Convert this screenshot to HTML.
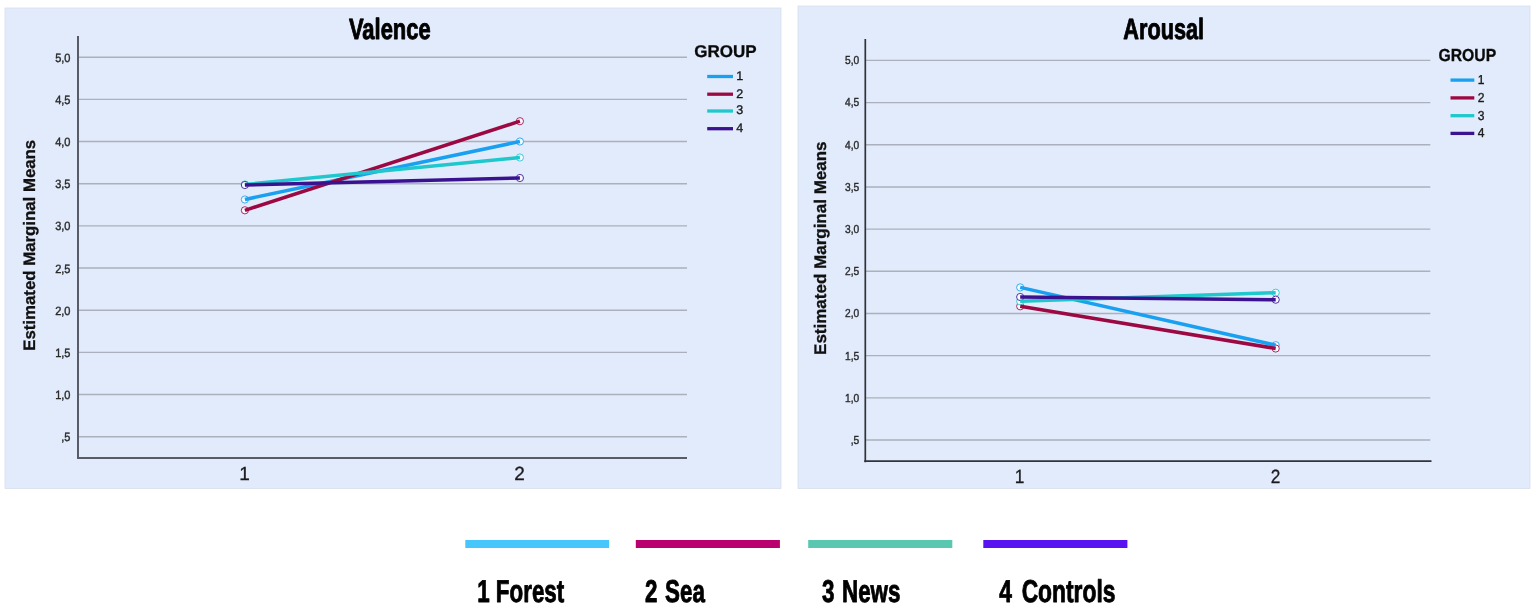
<!DOCTYPE html>
<html><head><meta charset="utf-8"><title>Valence and Arousal</title>
<style>html,body{margin:0;padding:0;background:#fff;}body{width:1535px;height:609px;overflow:hidden;}svg{display:block;text-rendering:geometricPrecision;}</style></head><body>
<svg width="1535" height="609" viewBox="0 0 1535 609" font-family="'Liberation Sans', Arial, sans-serif">
<rect width="1535" height="609" fill="#ffffff"/>
<rect x="5" y="8" width="776" height="480.5" fill="#e2ebfb" stroke="#d8dfeb" stroke-width="0.8"/>
<line x1="78" y1="57.2" x2="687" y2="57.2" stroke="#aab1bd" stroke-width="1.4"/>
<text x="70.5" y="61.8" font-size="12" text-anchor="end" fill="#2b2b2b" stroke="#2b2b2b" stroke-width="0.4" transform="translate(70.5,0) scale(0.92,1) translate(-70.5,0)">5,0</text>
<line x1="78" y1="99.37" x2="687" y2="99.37" stroke="#aab1bd" stroke-width="1.4"/>
<text x="70.5" y="103.97" font-size="12" text-anchor="end" fill="#2b2b2b" stroke="#2b2b2b" stroke-width="0.4" transform="translate(70.5,0) scale(0.92,1) translate(-70.5,0)">4,5</text>
<line x1="78" y1="141.54" x2="687" y2="141.54" stroke="#aab1bd" stroke-width="1.4"/>
<text x="70.5" y="146.14" font-size="12" text-anchor="end" fill="#2b2b2b" stroke="#2b2b2b" stroke-width="0.4" transform="translate(70.5,0) scale(0.92,1) translate(-70.5,0)">4,0</text>
<line x1="78" y1="183.71" x2="687" y2="183.71" stroke="#aab1bd" stroke-width="1.4"/>
<text x="70.5" y="188.31" font-size="12" text-anchor="end" fill="#2b2b2b" stroke="#2b2b2b" stroke-width="0.4" transform="translate(70.5,0) scale(0.92,1) translate(-70.5,0)">3,5</text>
<line x1="78" y1="225.88" x2="687" y2="225.88" stroke="#aab1bd" stroke-width="1.4"/>
<text x="70.5" y="230.48" font-size="12" text-anchor="end" fill="#2b2b2b" stroke="#2b2b2b" stroke-width="0.4" transform="translate(70.5,0) scale(0.92,1) translate(-70.5,0)">3,0</text>
<line x1="78" y1="268.05" x2="687" y2="268.05" stroke="#aab1bd" stroke-width="1.4"/>
<text x="70.5" y="272.65" font-size="12" text-anchor="end" fill="#2b2b2b" stroke="#2b2b2b" stroke-width="0.4" transform="translate(70.5,0) scale(0.92,1) translate(-70.5,0)">2,5</text>
<line x1="78" y1="310.22" x2="687" y2="310.22" stroke="#aab1bd" stroke-width="1.4"/>
<text x="70.5" y="314.82" font-size="12" text-anchor="end" fill="#2b2b2b" stroke="#2b2b2b" stroke-width="0.4" transform="translate(70.5,0) scale(0.92,1) translate(-70.5,0)">2,0</text>
<line x1="78" y1="352.39" x2="687" y2="352.39" stroke="#aab1bd" stroke-width="1.4"/>
<text x="70.5" y="356.99" font-size="12" text-anchor="end" fill="#2b2b2b" stroke="#2b2b2b" stroke-width="0.4" transform="translate(70.5,0) scale(0.92,1) translate(-70.5,0)">1,5</text>
<line x1="78" y1="394.56" x2="687" y2="394.56" stroke="#aab1bd" stroke-width="1.4"/>
<text x="70.5" y="399.16" font-size="12" text-anchor="end" fill="#2b2b2b" stroke="#2b2b2b" stroke-width="0.4" transform="translate(70.5,0) scale(0.92,1) translate(-70.5,0)">1,0</text>
<line x1="78" y1="436.73" x2="687" y2="436.73" stroke="#aab1bd" stroke-width="1.4"/>
<text x="70.5" y="441.33" font-size="12" text-anchor="end" fill="#2b2b2b" stroke="#2b2b2b" stroke-width="0.4" transform="translate(70.5,0) scale(0.92,1) translate(-70.5,0)">,5</text>
<line x1="78" y1="36" x2="78" y2="459" stroke="#575c66" stroke-width="2"/>
<line x1="77" y1="458" x2="687" y2="458" stroke="#575c66" stroke-width="2.2"/>
<text transform="translate(35.2,245.3) rotate(-90)" font-size="16.6" font-weight="bold" text-anchor="middle" textLength="211" lengthAdjust="spacingAndGlyphs" fill="#111" stroke="#111" stroke-width="0.3">Estimated Marginal Means</text>
<text x="0" y="0" transform="translate(244.5,480.0) scale(1.0,1)" font-size="19" text-anchor="middle" fill="#1a1a1a" stroke="#1a1a1a" stroke-width="0.3">1</text>
<text x="0" y="0" transform="translate(519.5,480.0) scale(1.0,1)" font-size="19" text-anchor="middle" fill="#1a1a1a" stroke="#1a1a1a" stroke-width="0.3">2</text>
<text x="0" y="0" transform="translate(389.8,39.2) scale(0.75,1)" font-size="29.3" font-weight="bold" text-anchor="middle" fill="#000" stroke="#000" stroke-width="0.9" stroke-linejoin="round">Valence</text>
<text x="0" y="0" transform="translate(694.3,56.7) scale(1.0,1)" font-size="17" font-weight="bold" fill="#0a0a0a" stroke="#0a0a0a" stroke-width="0.3">GROUP</text>
<line x1="707.2" y1="76.5" x2="733" y2="76.5" stroke="#19a0f0" stroke-width="3.3"/>
<text x="0" y="0" transform="translate(736.3,79.9) scale(1.0,1)" font-size="12.5" fill="#1a1a1a" stroke="#1a1a1a" stroke-width="0.35">1</text>
<line x1="707.2" y1="94.2" x2="733" y2="94.2" stroke="#9c0942" stroke-width="3.3"/>
<text x="0" y="0" transform="translate(736.3,97.6) scale(1.0,1)" font-size="12.5" fill="#1a1a1a" stroke="#1a1a1a" stroke-width="0.35">2</text>
<line x1="707.2" y1="111.0" x2="733" y2="111.0" stroke="#1ec8cc" stroke-width="3.3"/>
<text x="0" y="0" transform="translate(736.3,114.4) scale(1.0,1)" font-size="12.5" fill="#1a1a1a" stroke="#1a1a1a" stroke-width="0.35">3</text>
<line x1="707.2" y1="128.7" x2="733" y2="128.7" stroke="#3a1290" stroke-width="3.3"/>
<text x="0" y="0" transform="translate(736.3,132.1) scale(1.0,1)" font-size="12.5" fill="#1a1a1a" stroke="#1a1a1a" stroke-width="0.35">4</text>
<circle cx="244.9" cy="199.5" r="3.6" fill="#f7faff" stroke="#19a0f0" stroke-width="1.0" stroke-opacity="0.85"/>
<circle cx="519.9" cy="141.5" r="3.6" fill="#f7faff" stroke="#19a0f0" stroke-width="1.0" stroke-opacity="0.85"/>
<circle cx="244.9" cy="210.3" r="3.6" fill="#f7faff" stroke="#9c0942" stroke-width="1.0" stroke-opacity="0.85"/>
<circle cx="519.9" cy="121.2" r="3.6" fill="#f7faff" stroke="#9c0942" stroke-width="1.0" stroke-opacity="0.85"/>
<circle cx="244.9" cy="184.5" r="3.6" fill="#f7faff" stroke="#1ec8cc" stroke-width="1.0" stroke-opacity="0.85"/>
<circle cx="519.9" cy="157.5" r="3.6" fill="#f7faff" stroke="#1ec8cc" stroke-width="1.0" stroke-opacity="0.85"/>
<circle cx="244.9" cy="185" r="3.6" fill="#f7faff" stroke="#3a1290" stroke-width="1.0" stroke-opacity="0.85"/>
<circle cx="519.9" cy="178" r="3.6" fill="#f7faff" stroke="#3a1290" stroke-width="1.0" stroke-opacity="0.85"/>
<line x1="244.9" y1="199.5" x2="519.9" y2="141.5" stroke="#19a0f0" stroke-width="3.5"/>
<line x1="244.9" y1="210.3" x2="519.9" y2="121.2" stroke="#9c0942" stroke-width="3.5"/>
<line x1="244.9" y1="184.5" x2="519.9" y2="157.5" stroke="#1ec8cc" stroke-width="3.5"/>
<line x1="244.9" y1="185" x2="519.9" y2="178" stroke="#3a1290" stroke-width="3.5"/>
<rect x="798" y="6" width="732" height="482.5" fill="#e2ebfb" stroke="#d8dfeb" stroke-width="0.8"/>
<line x1="865.3" y1="60.4" x2="1430.3" y2="60.4" stroke="#aab1bd" stroke-width="1.4"/>
<text x="859.3" y="64.3" font-size="11.6" text-anchor="end" fill="#2b2b2b" stroke="#2b2b2b" stroke-width="0.4" transform="translate(859.3,0) scale(0.88,1) translate(-859.3,0)">5,0</text>
<line x1="865.3" y1="102.58" x2="1430.3" y2="102.58" stroke="#aab1bd" stroke-width="1.4"/>
<text x="859.3" y="106.48" font-size="11.6" text-anchor="end" fill="#2b2b2b" stroke="#2b2b2b" stroke-width="0.4" transform="translate(859.3,0) scale(0.88,1) translate(-859.3,0)">4,5</text>
<line x1="865.3" y1="144.76" x2="1430.3" y2="144.76" stroke="#aab1bd" stroke-width="1.4"/>
<text x="859.3" y="148.66" font-size="11.6" text-anchor="end" fill="#2b2b2b" stroke="#2b2b2b" stroke-width="0.4" transform="translate(859.3,0) scale(0.88,1) translate(-859.3,0)">4,0</text>
<line x1="865.3" y1="186.94" x2="1430.3" y2="186.94" stroke="#aab1bd" stroke-width="1.4"/>
<text x="859.3" y="190.84" font-size="11.6" text-anchor="end" fill="#2b2b2b" stroke="#2b2b2b" stroke-width="0.4" transform="translate(859.3,0) scale(0.88,1) translate(-859.3,0)">3,5</text>
<line x1="865.3" y1="229.12" x2="1430.3" y2="229.12" stroke="#aab1bd" stroke-width="1.4"/>
<text x="859.3" y="233.02" font-size="11.6" text-anchor="end" fill="#2b2b2b" stroke="#2b2b2b" stroke-width="0.4" transform="translate(859.3,0) scale(0.88,1) translate(-859.3,0)">3,0</text>
<line x1="865.3" y1="271.3" x2="1430.3" y2="271.3" stroke="#aab1bd" stroke-width="1.4"/>
<text x="859.3" y="275.2" font-size="11.6" text-anchor="end" fill="#2b2b2b" stroke="#2b2b2b" stroke-width="0.4" transform="translate(859.3,0) scale(0.88,1) translate(-859.3,0)">2,5</text>
<line x1="865.3" y1="313.48" x2="1430.3" y2="313.48" stroke="#aab1bd" stroke-width="1.4"/>
<text x="859.3" y="317.38" font-size="11.6" text-anchor="end" fill="#2b2b2b" stroke="#2b2b2b" stroke-width="0.4" transform="translate(859.3,0) scale(0.88,1) translate(-859.3,0)">2,0</text>
<line x1="865.3" y1="355.66" x2="1430.3" y2="355.66" stroke="#aab1bd" stroke-width="1.4"/>
<text x="859.3" y="359.56" font-size="11.6" text-anchor="end" fill="#2b2b2b" stroke="#2b2b2b" stroke-width="0.4" transform="translate(859.3,0) scale(0.88,1) translate(-859.3,0)">1,5</text>
<line x1="865.3" y1="397.84" x2="1430.3" y2="397.84" stroke="#aab1bd" stroke-width="1.4"/>
<text x="859.3" y="401.74" font-size="11.6" text-anchor="end" fill="#2b2b2b" stroke="#2b2b2b" stroke-width="0.4" transform="translate(859.3,0) scale(0.88,1) translate(-859.3,0)">1,0</text>
<line x1="865.3" y1="440.02" x2="1430.3" y2="440.02" stroke="#aab1bd" stroke-width="1.4"/>
<text x="859.3" y="443.92" font-size="11.6" text-anchor="end" fill="#2b2b2b" stroke="#2b2b2b" stroke-width="0.4" transform="translate(859.3,0) scale(0.88,1) translate(-859.3,0)">,5</text>
<line x1="865.3" y1="39" x2="865.3" y2="462.2" stroke="#303339" stroke-width="1.7"/>
<line x1="864.3" y1="461.2" x2="1431.5" y2="461.2" stroke="#303339" stroke-width="1.7"/>
<text transform="translate(826,248.2) rotate(-90)" font-size="16.8" font-weight="bold" text-anchor="middle" textLength="213.5" lengthAdjust="spacingAndGlyphs" fill="#111" stroke="#111" stroke-width="0.3">Estimated Marginal Means</text>
<text x="0" y="0" transform="translate(1019.5,483.2) scale(0.9,1)" font-size="19.2" text-anchor="middle" fill="#1a1a1a" stroke="#1a1a1a" stroke-width="0.3">1</text>
<text x="0" y="0" transform="translate(1275.5,483.2) scale(0.9,1)" font-size="19.2" text-anchor="middle" fill="#1a1a1a" stroke="#1a1a1a" stroke-width="0.3">2</text>
<text x="0" y="0" transform="translate(1163.7,38.7) scale(0.74,1)" font-size="29.3" font-weight="bold" text-anchor="middle" fill="#000" stroke="#000" stroke-width="0.9" stroke-linejoin="round">Arousal</text>
<text x="0" y="0" transform="translate(1438.4,60.7) scale(0.9,1)" font-size="17.5" font-weight="bold" fill="#0a0a0a" stroke="#0a0a0a" stroke-width="0.3">GROUP</text>
<line x1="1450.5" y1="80.1" x2="1474.3" y2="80.1" stroke="#19a0f0" stroke-width="3.3"/>
<text x="0" y="0" transform="translate(1477.8,84.1) scale(0.93,1)" font-size="13" fill="#1a1a1a" stroke="#1a1a1a" stroke-width="0.35">1</text>
<line x1="1450.5" y1="97.9" x2="1474.3" y2="97.9" stroke="#9c0942" stroke-width="3.3"/>
<text x="0" y="0" transform="translate(1477.8,101.9) scale(0.93,1)" font-size="13" fill="#1a1a1a" stroke="#1a1a1a" stroke-width="0.35">2</text>
<line x1="1450.5" y1="115.7" x2="1474.3" y2="115.7" stroke="#1ec8cc" stroke-width="3.3"/>
<text x="0" y="0" transform="translate(1477.8,119.7) scale(0.93,1)" font-size="13" fill="#1a1a1a" stroke="#1a1a1a" stroke-width="0.35">3</text>
<line x1="1450.5" y1="133.4" x2="1474.3" y2="133.4" stroke="#3a1290" stroke-width="3.3"/>
<text x="0" y="0" transform="translate(1477.8,137.4) scale(0.93,1)" font-size="13" fill="#1a1a1a" stroke="#1a1a1a" stroke-width="0.35">4</text>
<circle cx="1020.2" cy="287.4" r="3.6" fill="#f7faff" stroke="#19a0f0" stroke-width="1.0" stroke-opacity="0.85"/>
<circle cx="1275.7" cy="345.2" r="3.6" fill="#f7faff" stroke="#19a0f0" stroke-width="1.0" stroke-opacity="0.85"/>
<circle cx="1020.2" cy="306.3" r="3.6" fill="#f7faff" stroke="#9c0942" stroke-width="1.0" stroke-opacity="0.85"/>
<circle cx="1275.7" cy="348.5" r="3.6" fill="#f7faff" stroke="#9c0942" stroke-width="1.0" stroke-opacity="0.85"/>
<circle cx="1020.2" cy="301.3" r="3.6" fill="#f7faff" stroke="#1ec8cc" stroke-width="1.0" stroke-opacity="0.85"/>
<circle cx="1275.7" cy="292.7" r="3.6" fill="#f7faff" stroke="#1ec8cc" stroke-width="1.0" stroke-opacity="0.85"/>
<circle cx="1020.2" cy="297" r="3.6" fill="#f7faff" stroke="#3a1290" stroke-width="1.0" stroke-opacity="0.85"/>
<circle cx="1275.7" cy="299.7" r="3.6" fill="#f7faff" stroke="#3a1290" stroke-width="1.0" stroke-opacity="0.85"/>
<line x1="1020.2" y1="287.4" x2="1275.7" y2="345.2" stroke="#19a0f0" stroke-width="3.5"/>
<line x1="1020.2" y1="306.3" x2="1275.7" y2="348.5" stroke="#9c0942" stroke-width="3.5"/>
<line x1="1020.2" y1="301.3" x2="1275.7" y2="292.7" stroke="#1ec8cc" stroke-width="3.5"/>
<line x1="1020.2" y1="297" x2="1275.7" y2="299.7" stroke="#3a1290" stroke-width="3.5"/>
<rect x="465.3" y="540" width="143.8" height="8" fill="#46c6fa"/>
<text x="0" y="0" transform="translate(477.2,602.0) scale(0.71,1)" font-size="31.5" font-weight="bold" fill="#000" stroke="#000" stroke-width="0.9" stroke-linejoin="round">1 <tspan dx="0.0">Forest</tspan></text>
<rect x="635.8" y="540" width="144.1" height="8" fill="#ba006e"/>
<text x="0" y="0" transform="translate(645.0,602.0) scale(0.71,1)" font-size="31.5" font-weight="bold" fill="#000" stroke="#000" stroke-width="0.9" stroke-linejoin="round">2 <tspan dx="2.0">Sea</tspan></text>
<rect x="808.2" y="540" width="144.1" height="8" fill="#5ac8b0"/>
<text x="0" y="0" transform="translate(821.9,602.0) scale(0.71,1)" font-size="31.5" font-weight="bold" fill="#000" stroke="#000" stroke-width="0.9" stroke-linejoin="round">3 <tspan dx="2.0">News</tspan></text>
<rect x="983.3" y="540" width="144.1" height="8" fill="#5814f0"/>
<text x="0" y="0" transform="translate(999.3,602.0) scale(0.724,1)" font-size="31.5" font-weight="bold" fill="#000" stroke="#000" stroke-width="0.9" stroke-linejoin="round">4 <tspan dx="4.6">Controls</tspan></text>
</svg>
</body></html>
